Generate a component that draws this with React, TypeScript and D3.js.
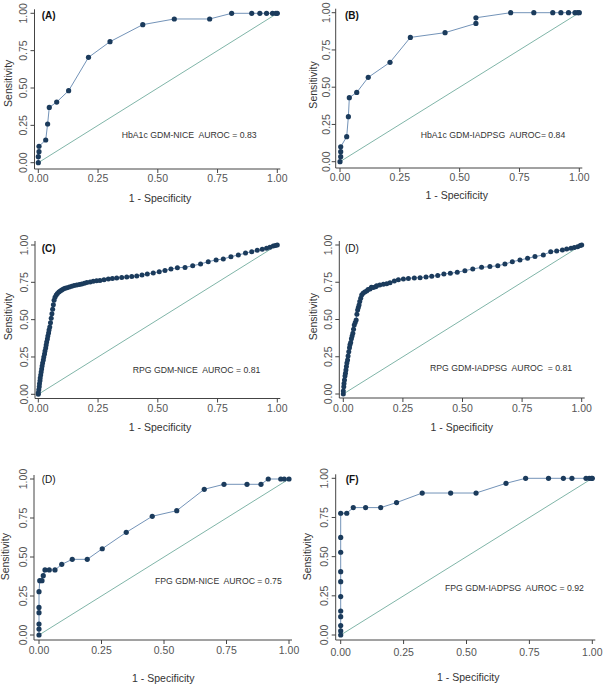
import React from "react";
import * as d3 from "d3";

// ---------- data ----------
const tickValues = [0, 0.25, 0.5, 0.75, 1];
const tickLabels = ["0.00", "0.25", "0.50", "0.75", "1.00"];

const aFpr = [0, 0, 0.003, 0.003, 0.031, 0.039, 0.046, 0.077, 0.127, 0.21, 0.3, 0.437, 0.569, 0.717, 0.809, 0.893, 0.927, 0.955, 0.98, 0.994, 1];
const aTpr = [0, 0.04, 0.074, 0.11, 0.152, 0.259, 0.37, 0.406, 0.482, 0.705, 0.81, 0.924, 0.962, 0.962, 1, 1, 1, 1, 1, 1, 1];

const bFpr = [0, 0.003, 0.003, 0.003, 0.028, 0.035, 0.039, 0.07, 0.118, 0.209, 0.294, 0.439, 0.568, 0.568, 0.713, 0.81, 0.889, 0.923, 0.955, 0.982, 0.993, 1];
const bTpr = [0, 0.034, 0.067, 0.1, 0.168, 0.302, 0.43, 0.465, 0.566, 0.667, 0.834, 0.866, 0.928, 0.966, 1, 1, 1, 1, 1, 1, 1, 1];

const cFpr = [0, 0, 0.002, 0.004, 0.005, 0.007, 0.008, 0.01, 0.012, 0.014, 0.016, 0.018, 0.021, 0.023, 0.026, 0.028, 0.031, 0.033, 0.035, 0.038, 0.04, 0.043, 0.045, 0.048, 0.051, 0.054, 0.057, 0.06, 0.063, 0.066, 0.07, 0.075, 0.08, 0.086, 0.092, 0.098, 0.105, 0.112, 0.12, 0.13, 0.14, 0.15, 0.161, 0.172, 0.182, 0.193, 0.203, 0.217, 0.23, 0.244, 0.258, 0.275, 0.293, 0.31, 0.328, 0.349, 0.37, 0.391, 0.412, 0.434, 0.456, 0.481, 0.506, 0.53, 0.555, 0.582, 0.614, 0.646, 0.679, 0.711, 0.744, 0.774, 0.806, 0.837, 0.867, 0.893, 0.916, 0.937, 0.955, 0.969, 0.983, 0.992, 1];
const cTpr = [0, 0.01, 0.03, 0.05, 0.07, 0.09, 0.11, 0.13, 0.15, 0.17, 0.19, 0.21, 0.23, 0.25, 0.27, 0.29, 0.31, 0.33, 0.35, 0.37, 0.39, 0.41, 0.43, 0.45, 0.48, 0.51, 0.54, 0.57, 0.6, 0.63, 0.65, 0.665, 0.675, 0.685, 0.692, 0.699, 0.705, 0.71, 0.714, 0.718, 0.724, 0.728, 0.732, 0.736, 0.739, 0.744, 0.748, 0.752, 0.757, 0.76, 0.763, 0.767, 0.772, 0.775, 0.779, 0.782, 0.786, 0.789, 0.792, 0.799, 0.806, 0.813, 0.821, 0.83, 0.839, 0.848, 0.85, 0.861, 0.873, 0.888, 0.9, 0.906, 0.922, 0.933, 0.946, 0.955, 0.964, 0.971, 0.978, 0.985, 0.993, 0.997, 1];

const dFpr = [0, 0, 0.002, 0.003, 0.005, 0.007, 0.009, 0.011, 0.013, 0.015, 0.018, 0.02, 0.023, 0.026, 0.028, 0.031, 0.034, 0.037, 0.04, 0.043, 0.046, 0.05, 0.054, 0.057, 0.06, 0.063, 0.066, 0.069, 0.073, 0.077, 0.083, 0.09, 0.098, 0.104, 0.112, 0.118, 0.126, 0.136, 0.14, 0.153, 0.168, 0.182, 0.196, 0.214, 0.231, 0.252, 0.273, 0.298, 0.322, 0.347, 0.371, 0.396, 0.422, 0.449, 0.478, 0.51, 0.543, 0.58, 0.615, 0.648, 0.678, 0.709, 0.741, 0.773, 0.804, 0.839, 0.87, 0.895, 0.919, 0.937, 0.955, 0.969, 0.983, 0.994, 1];
const dTpr = [0, 0.02, 0.049, 0.07, 0.094, 0.12, 0.14, 0.161, 0.185, 0.208, 0.228, 0.255, 0.284, 0.31, 0.33, 0.345, 0.37, 0.39, 0.407, 0.435, 0.463, 0.48, 0.497, 0.535, 0.564, 0.58, 0.597, 0.62, 0.642, 0.664, 0.676, 0.684, 0.691, 0.702, 0.705, 0.716, 0.714, 0.72, 0.727, 0.732, 0.736, 0.74, 0.747, 0.758, 0.767, 0.772, 0.776, 0.779, 0.781, 0.785, 0.79, 0.796, 0.805, 0.81, 0.817, 0.828, 0.839, 0.85, 0.855, 0.861, 0.872, 0.888, 0.899, 0.911, 0.922, 0.933, 0.955, 0.96, 0.966, 0.973, 0.978, 0.984, 0.989, 0.996, 1];

const eFpr = [0, 0, 0, 0, 0, 0, 0.003, 0.012, 0.017, 0.024, 0.041, 0.064, 0.091, 0.133, 0.193, 0.253, 0.349, 0.453, 0.551, 0.661, 0.74, 0.832, 0.888, 0.917, 0.967, 0.981, 1];
const eTpr = [0, 0.038, 0.07, 0.143, 0.177, 0.278, 0.348, 0.348, 0.38, 0.417, 0.417, 0.417, 0.453, 0.485, 0.485, 0.553, 0.658, 0.761, 0.797, 0.934, 0.966, 0.966, 0.966, 1, 1, 1, 1];

const fFpr = [0, 0, 0, 0, 0, 0, 0, 0, 0, 0, 0, 0.024, 0.05, 0.099, 0.159, 0.222, 0.324, 0.437, 0.538, 0.657, 0.735, 0.826, 0.885, 0.919, 0.975, 0.988, 0.997, 1];
const fTpr = [0, 0.026, 0.06, 0.117, 0.153, 0.245, 0.34, 0.404, 0.528, 0.623, 0.777, 0.777, 0.813, 0.813, 0.813, 0.845, 0.906, 0.906, 0.906, 0.968, 1, 1, 1, 1, 1, 1, 1, 1];

const panelLabels = ["(A)", "(B)", "(C)", "(D)", "(D)", "(F)"];
const panelNotes = [
  "HbA1c GDM-NICE  AUROC = 0.83",
  "HbA1c GDM-IADPSG  AUROC= 0.84",
  "RPG GDM-NICE  AUROC = 0.81",
  "RPG GDM-IADPSG  AUROC  = 0.81",
  "FPG GDM-NICE  AUROC = 0.75",
  "FPG GDM-IADPSG  AUROC = 0.92",
];
const xTitle = "1 - Specificity";
const yTitle = "Sensitivity";

// ---------- layout ----------
type Layout = {
  x0: number; x1: number; y0: number; y1: number;
  axisY: number; axisX: number;
  yTickX: number; xTickY: number;
  xt: [number, number]; yt: [number, number];
  lab: [number, number]; bold: boolean;
  note: [number, number];
  r: number;
};

const layouts: Layout[] = [
  { x0: 38.3, x1: 277.3, y0: 162.7, y1: 13.3, axisY: 169, axisX: 34.5, yTickX: 23.3, xTickY: 178.3, xt: [160, 198.3], yt: [8.3, 83.3], lab: [41.7, 15.5], bold: true, note: [121.7, 135], r: 2.6 },
  { x0: 340, x1: 579.3, y0: 161.7, y1: 12.7, axisY: 168, axisX: 335.7, yTickX: 326, xTickY: 176.7, xt: [456.7, 195], yt: [312.7, 85], lab: [345, 15.5], bold: true, note: [420.7, 135], r: 2.6 },
  { x0: 38.3, x1: 277.3, y0: 394.3, y1: 245, axisY: 398.5, axisX: 35, yTickX: 24, xTickY: 408.3, xt: [160, 426.7], yt: [8.3, 316.7], lab: [41.7, 248.3], bold: true, note: [132.7, 370], r: 2.5 },
  { x0: 343.3, x1: 581.7, y0: 394, y1: 245, axisY: 398, axisX: 339.3, yTickX: 328.3, xTickY: 408.3, xt: [461.7, 427.3], yt: [312.7, 316.7], lab: [345, 248.3], bold: false, note: [430, 367.7], r: 2.5 },
  { x0: 39, x1: 289, y0: 635, y1: 479, axisY: 640, axisX: 34, yTickX: 23.3, xTickY: 650, xt: [163.3, 677.7], yt: [5, 556.7], lab: [41.7, 479], bold: false, note: [155, 581], r: 2.6 },
  { x0: 340.7, x1: 592.3, y0: 635, y1: 478.3, axisY: 640, axisX: 335.7, yTickX: 324, xTickY: 651.7, xt: [468.3, 676.7], yt: [307.3, 556.7], lab: [345.7, 479], bold: true, note: [445, 587.7], r: 2.6 },
];

const series: [number[], number[]][] = [
  [aFpr, aTpr], [bFpr, bTpr], [cFpr, cTpr], [dFpr, dTpr], [eFpr, eTpr], [fFpr, fTpr],
];

const FONT = "'Liberation Sans', Arial, sans-serif";
const LINE = "#7393b8";
const DOT = "#1b3b5c";
const DIAG = "#72ad9e";
const AXIS = "#444";
const TEXT = "#333";

function Panel({ i }: { i: number }) {
  const L = layouts[i];
  const [xs, ys] = series[i];
  const x = d3.scaleLinear().domain([0, 1]).range([L.x0, L.x1]);
  const y = d3.scaleLinear().domain([0, 1]).range([L.y0, L.y1]);
  const pts = xs.map((v, k) => [v, ys[k]] as [number, number]);
  const line = d3.line<[number, number]>().x((d) => x(d[0])).y((d) => y(d[1]));
  return (
    <g>
      <line x1={x(0)} y1={y(0)} x2={x(1)} y2={y(1)} stroke={DIAG} strokeWidth={0.9} />
      <line x1={L.axisX} y1={y(1) - 4} x2={L.axisX} y2={L.axisY} stroke={AXIS} strokeWidth={1} />
      <line x1={L.axisX} y1={L.axisY} x2={x(1) + 3} y2={L.axisY} stroke={AXIS} strokeWidth={1} />
      {tickValues.map((t, k) => (
        <g key={"y" + k}>
          <line x1={L.axisX - 4} x2={L.axisX} y1={y(t)} y2={y(t)} stroke={AXIS} strokeWidth={1} />
          <text
            transform={`translate(${L.yTickX},${y(t)}) rotate(-90)`}
            textAnchor="middle"
            dominantBaseline="central"
            fontSize={10.5}
            fill="#555"
            fontFamily={FONT}
          >
            {tickLabels[k]}
          </text>
        </g>
      ))}
      {tickValues.map((t, k) => (
        <g key={"x" + k}>
          <line x1={x(t)} x2={x(t)} y1={L.axisY} y2={L.axisY + 4} stroke={AXIS} strokeWidth={1} />
          <text x={x(t)} y={L.xTickY} textAnchor="middle" dominantBaseline="central" fontSize={10.5} fill="#555" fontFamily={FONT}>
            {tickLabels[k]}
          </text>
        </g>
      ))}
      <text x={L.xt[0]} y={L.xt[1]} textAnchor="middle" dominantBaseline="central" fontSize={10.5} fill={TEXT} fontFamily={FONT}>
        {xTitle}
      </text>
      <text
        transform={`translate(${L.yt[0]},${L.yt[1]}) rotate(-90)`}
        textAnchor="middle"
        dominantBaseline="central"
        fontSize={10.5}
        fill={TEXT}
        fontFamily={FONT}
      >
        {yTitle}
      </text>
      <path d={line(pts) || ""} fill="none" stroke={LINE} strokeWidth={1} />
      {pts.map((p, k) => (
        <circle key={k} cx={x(p[0])} cy={y(p[1])} r={L.r} fill={DOT} />
      ))}
      <text x={L.lab[0]} y={L.lab[1]} dominantBaseline="central" fontSize={10} fontWeight={L.bold ? "bold" : "normal"} fill="#111" fontFamily={FONT}>
        {panelLabels[i]}
      </text>
      <text
        x={L.note[0]}
        y={L.note[1]}
        dominantBaseline="central"
        fontSize={8.7}
        fill={TEXT}
        fontFamily={FONT}
        style={{ whiteSpace: "pre" }}
      >
        {panelNotes[i]}
      </text>
    </g>
  );
}

export default function App() {
  return (
    <div style={{ position: "absolute", left: 0, top: 0 }}>
      <svg width={603} height={684} style={{ display: "block", background: "#fff" }}>
        {layouts.map((_, i) => (
          <Panel key={i} i={i} />
        ))}
      </svg>
    </div>
  );
}
